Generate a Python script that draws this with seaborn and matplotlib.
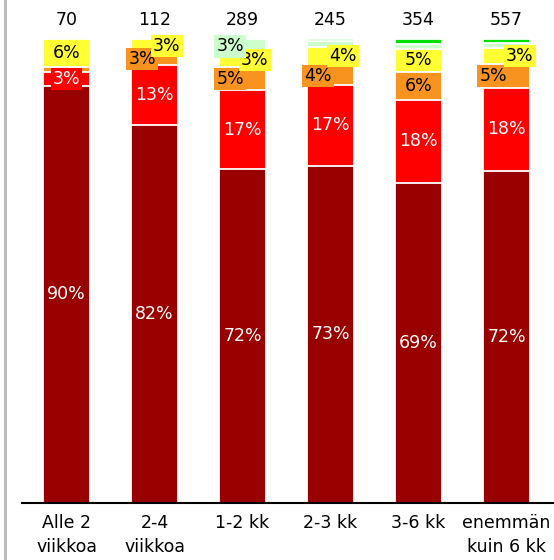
import numpy as np
import matplotlib
matplotlib.use("Agg")
import matplotlib.pyplot as plt
from matplotlib.lines import Line2D
import seaborn as sns

# categories and respondent counts
cats = ["Alle 2\nviikkoa", "2-4\nviikkoa", "1-2 kk", "2-3 kk", "3-6 kk", "enemmän\nkuin 6 kk"]
n_resp = [70, 112, 289, 245, 354, 557]

# share of answers (%), bottom to top
dark = [90, 81.6, 72, 72.8, 69, 71.7]
red = [3, 12.8, 17, 17.3, 18, 17.8]
orange = [1, 2.8, 5, 4.2, 6, 5.3]
yellow = [6, 2.8, 3, 4.1, 5, 3.4]
lgreen = [0, 0, 3, 1.2, 1, 1.1]
green = [0, 0, 0, 0.4, 1, 0.7]

layers = [dark, red, orange, yellow, lgreen, green]
colors = ["#990000", "#FF0000", "#F7931E", "#FFFF33", "#CCFFCC", "#00E000"]
txt_col = ["white", "white", "black", "black", "black", "black"]

# horizontal nudges for crowded labels (bar index, layer index) -> category units
nudge = {(1, 2): -0.14, (1, 3): 0.14,
         (2, 4): -0.14, (2, 3): 0.14, (2, 2): -0.14,
         (3, 3): 0.14, (3, 2): -0.14,
         (5, 3): 0.15, (5, 2): -0.15}

sns.set_style("white")
plt.rcParams["font.family"] = ["DejaVu Sans"]

fig = plt.figure(figsize=(5.54, 5.60), dpi=100)
ax = fig.add_axes([22 / 554, 57 / 560, 532 / 554, 500.6 / 560])

cum = np.cumsum(np.array(layers, dtype=float), axis=0)

# draw cumulative bars from top layer down so each lower layer covers the next
for k in range(len(layers) - 1, -1, -1):
    sns.barplot(x=cats, y=cum[k], color=colors[k], saturation=1, width=0.534,
                edgecolor="white", linewidth=1.3, errorbar=None, ax=ax)

# segment labels
for i in range(len(cats)):
    for k, vals in enumerate(layers):
        v = vals[i]
        if round(v) < 3:
            continue
        mid = cum[k][i] - v / 2
        dx = nudge.get((i, k), 0)
        kw = {}
        if dx != 0 or v < 4:
            kw["bbox"] = dict(boxstyle="square,pad=0.12", fc=colors[k], ec="none")
        ax.text(i + dx, mid, f"{round(v)}%", ha="center", va="center",
                color=txt_col[k], fontsize=12.5, **kw)

# counts above bars
for i, n in enumerate(n_resp):
    ax.text(i, 104.2, str(n), ha="center", va="center", fontsize=12.5, color="black")

ax.set_xlim(-0.506, 5.54)
ax.set_ylim(0, 108)
ax.set_yticks([])
ax.set_xlabel("")
ax.set_ylabel("")
for s in ["top", "right", "left"]:
    ax.spines[s].set_visible(False)
ax.spines["bottom"].set_color("black")
ax.spines["bottom"].set_linewidth(1.5)
ax.tick_params(axis="x", length=0, pad=8, labelsize=12.5, labelcolor="black")
for t in ax.get_xticklabels():
    t.set_linespacing(1.45)

fig.add_artist(Line2D([5 / 554, 5 / 554], [0, 1], color="#BDBDBD", lw=2.2))

fig.savefig("out.png", dpi=100)
